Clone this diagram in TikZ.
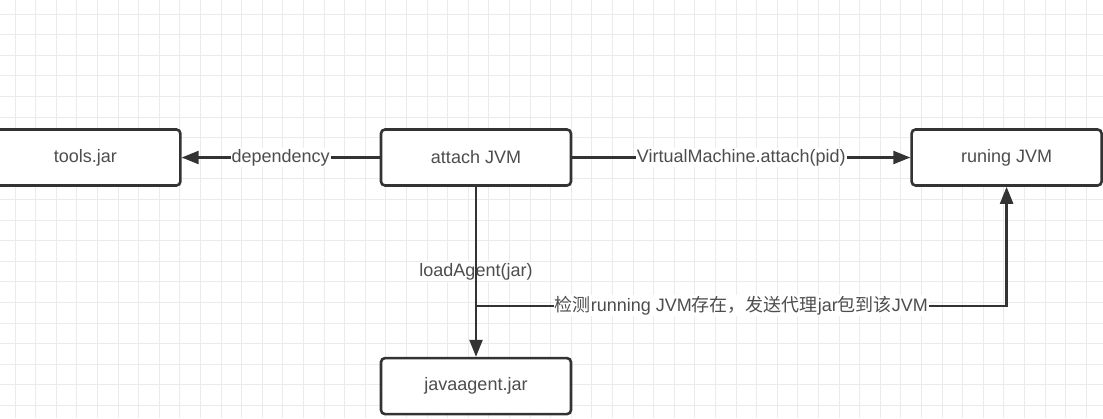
\documentclass[tikz,border=0pt]{standalone}
\usepackage{fontspec}
\setmainfont{Liberation Sans}
\newfontfamily\cjk{Noto Sans CJK SC}
\usetikzlibrary{arrows.meta,positioning,calc}
\definecolor{LineGray}{HTML}{333333}
\definecolor{TextGray}{HTML}{4D4D4D}
\definecolor{GridGray}{HTML}{EBEBEB}
\tikzset{
  blk/.style     = {draw=LineGray, rounded corners=4pt, line width=2.6pt, fill=white,
                    text=TextGray, font=\fontsize{18}{22}\selectfont,
                    minimum width=190pt, minimum height=56pt, inner sep=0pt},
  flecha/.style  = {-{Triangle[length=17pt,width=13pt]}, draw=LineGray, line width=2.4pt},
  lbl/.style     = {fill=white, text=TextGray, font=\fontsize{18}{22}\selectfont, inner sep=1pt},
  rejilla/.style = {draw=GridGray, line width=1pt},
}
\begin{document}
\begin{tikzpicture}[x=1pt, y=-1pt]
  \useasboundingbox (0,0) rectangle (1103,418);
  % rejilla de fondo
  \foreach \i in {0,...,53} \draw[rejilla] ({15+20.6*\i},0) -- ({15+20.6*\i},418);
  \foreach \j in {0,...,20} \draw[rejilla] (0,{14+20.6*\j}) -- (1103,{14+20.6*\j});
  \node[blk] (att) at (476,157.5) {attach JVM};
  \node[blk, left=198pt of att] (tools) {tools.jar};
  \node[blk, right=338pt of att] (run) {runing JVM};
  \node[blk, below=170pt of att] (agent) {javaagent.jar};
  \draw[flecha] (att) -- (tools) node[lbl, midway] {dependency};
  \draw[flecha] (att) -- (run) node[lbl, midway] {VirtualMachine.attach(pid)};
  \node[lbl] (load) at ($(att.south)!.5!(agent.north)$) {loadAgent(jar)};
  \draw[flecha] (att) -- (agent);
  \coordinate (fork) at ($(att.south)!.7!(agent.north)$);
  \draw[flecha] (fork) -| (run) node[lbl, pos=.25] {{\cjk 检测}running JVM{\cjk 存在，发送代理}jar{\cjk 包到该}JVM};
\end{tikzpicture}
\end{document}
